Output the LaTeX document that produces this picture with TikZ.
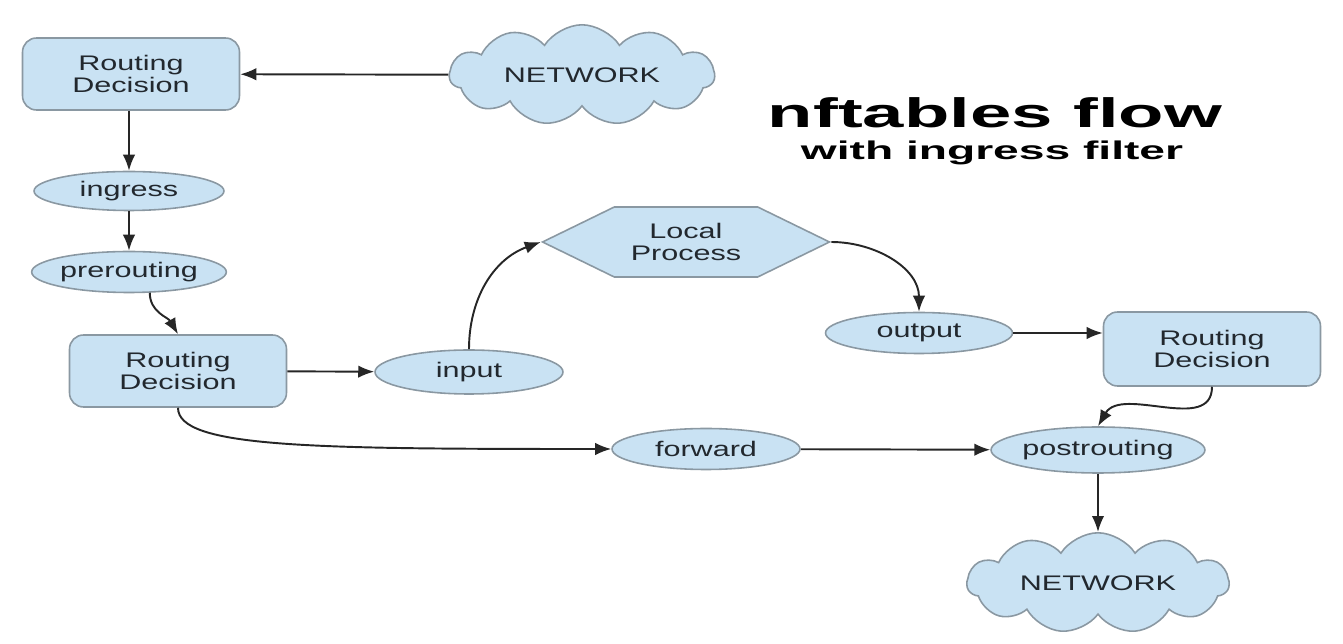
\documentclass[tikz,border=0pt]{standalone}
\usepackage{fontspec}
\setmainfont{Liberation Sans}[FakeStretch=1.45]
\newfontfamily\titlefont{Liberation Sans}[FakeStretch=1.8]
\usetikzlibrary{shapes.geometric,shapes.symbols,arrows.meta}

\definecolor{nodefill}{RGB}{201,226,243}
\definecolor{nodeline}{RGB}{138,152,162}
\definecolor{nodetext}{RGB}{34,40,46}

\tikzset{
  base/.style={draw=nodeline, fill=nodefill, line width=0.9pt, text=nodetext,
    font=\fontsize{12}{12}\selectfont, align=center, inner sep=0pt},
  decision/.style={base, rectangle, rounded corners=0.28cm,
    minimum width=4.34cm, minimum height=1.44cm},
  chain/.style={base, ellipse, minimum width=3.8cm, minimum height=0.82cm},
  network/.style={base, cloud, cloud puffs=11, cloud puff arc=115, aspect=3.2,
    minimum width=5.3cm, minimum height=1.65cm},
  process/.style={base, signal, signal to=east and west, signal pointer angle=52,
    minimum width=5.74cm, minimum height=1.4cm},
  flow/.style={-{Latex[length=3.2mm,width=2.5mm]}, line width=1.1pt, black!85}
}

\begin{document}
\begin{tikzpicture}[x=0.02cm, y=0.02cm]

	\useasboundingbox (0,0) rectangle (1343,-644);

	% Title
	\node[font=\titlefont\bfseries\fontsize{23.5}{26}\selectfont, anchor=base] (title) at (995,-128) {nftables flow};
	\node[font=\titlefont\bfseries\fontsize{14.6}{17}\selectfont, anchor=base] (subtitle) at (992,-160) {with ingress filter};

	% Incoming side
	\node[network] (net1) at (582,-75) {NETWORK};
	\node[decision] (rd1) at (131,-74) {Routing\\Decision};
	\node[chain, minimum height=0.78cm] (ingress) at (129,-191) {ingress};
	\node[chain] (prerouting) at (129,-272) {prerouting};
	\node[decision] (rd2) at (178,-371) {Routing\\Decision};

	% Local side
	\node[chain, minimum width=3.76cm, minimum height=0.88cm] (input) at (469,-372) {input};
	\node[process] (lp) at (686,-242) {Local\\Process};
	\node[chain, minimum width=3.74cm] (output) at (919,-333) {output};
	\node[decision, minimum height=1.48cm] (rd3) at (1212,-349) {Routing\\Decision};

	% Outgoing side
	\node[chain, minimum width=3.76cm] (forward) at (706,-449) {forward};
	\node[chain, minimum height=0.92cm] (postrouting) at (1098,-450) {postrouting};
	\node[network, minimum width=5.24cm, minimum height=1.72cm] (net2) at (1098,-583) {NETWORK};

	% Connectors
	\draw[flow] (net1) -- (rd1);
	\draw[flow] (rd1.south -| ingress.north) -- (ingress.north);
	\draw[flow] (ingress) -- (prerouting);
	\draw[flow] (prerouting.-45) to[out=-90, in=120] (rd2.north);
	\draw[flow] (rd2) -- (input);
	\draw[flow] (input.north) to[out=90, in=200] (lp.west);
	\draw[flow] (lp.east) to[out=0, in=90] (output.north);
	\draw[flow] (output.east) -- (output.east -| rd3.west);
	\draw[flow] (rd3.south) to[out=-90, in=60] (postrouting.north);
	\draw[flow] (rd2.south) .. controls +(0,-40) and +(-300,0) .. (forward.west);
	\draw[flow] (forward) -- (postrouting);
	\draw[flow] (postrouting) -- (net2);

\end{tikzpicture}
\end{document}
